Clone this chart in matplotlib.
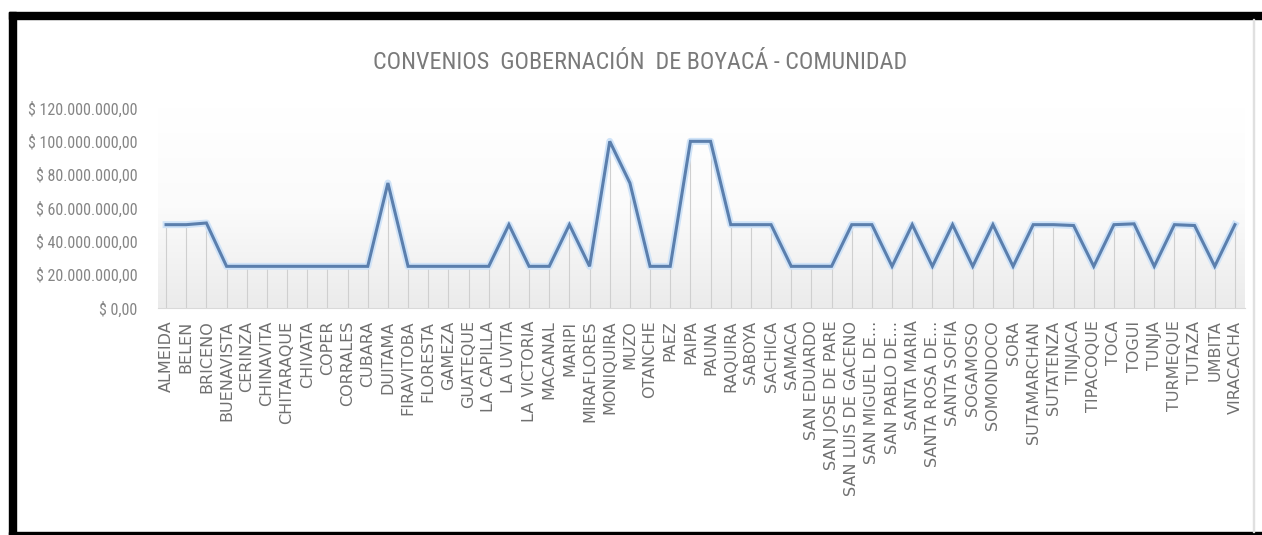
import numpy as np
import matplotlib.pyplot as plt
from matplotlib.patches import Rectangle
from matplotlib.ticker import FuncFormatter
from matplotlib.colors import LinearSegmentedColormap

municipios = [
    "ALMEIDA", "BELEN", "BRICENO", "BUENAVISTA", "CERINZA", "CHINAVITA", "CHITARAQUE",
    "CHIVATA", "COPER", "CORRALES", "CUBARA", "DUITAMA", "FIRAVITOBA", "FLORESTA",
    "GAMEZA", "GUATEQUE", "LA CAPILLA", "LA UVITA", "LA VICTORIA", "MACANAL", "MARIPI",
    "MIRAFLORES", "MONIQUIRA", "MUZO", "OTANCHE", "PAEZ", "PAIPA", "PAUNA", "RAQUIRA",
    "SABOYA", "SACHICA", "SAMACA", "SAN EDUARDO", "SAN JOSE DE PARE",
    "SAN LUIS DE GACENO", "SAN MIGUEL DE...", "SAN PABLO DE...", "SANTA MARIA",
    "SANTA ROSA DE...", "SANTA SOFIA", "SOGAMOSO", "SOMONDOCO", "SORA", "SUTAMARCHAN",
    "SUTATENZA", "TINJACA", "TIPACOQUE", "TOCA", "TOGUI", "TUNJA", "TURMEQUE", "TUTAZA",
    "UMBITA", "VIRACACHA",
]
# valores en millones de pesos
valores = [
    50, 50, 51, 25, 25, 25, 25,
    25, 25, 25, 25, 75, 25, 25,
    25, 25, 25, 50, 25, 25, 50,
    25, 100, 75, 25, 25, 100, 100, 50,
    50, 50, 25, 25, 25,
    50, 50, 25, 50,
    25, 50, 25, 50, 25, 50,
    50, 49.5, 25, 50, 50.5, 25, 50, 49.5,
    25, 50,
]
y_ticks = [0, 20, 40, 60, 80, 100, 120]

valores = np.array(valores) * 1e6
x = np.arange(len(municipios))

fuente_estrecha = ['Liberation Sans Narrow', 'DejaVu Sans Condensed', 'Roboto Condensed',
                   'DejaVu Sans']

fig = plt.figure(figsize=(12.62, 5.35), dpi=100)
ax = fig.add_axes([158 / 1262, 1 - 308 / 535, (1245 - 158) / 1262, 200 / 535])

# fondo degradado del area de trazado
cmap = LinearSegmentedColormap.from_list('fondo', ['#ffffff', '#fbfbfb', '#ebebeb'])
grad = np.linspace(0, 1, 256).reshape(-1, 1)
ax.imshow(grad, extent=[-0.4, 53.5, 0, 120e6], aspect='auto', cmap=cmap,
          zorder=0, origin='upper')

# lineas de proyeccion
ax.vlines(x, 0, valores, color='#cfcfcf', lw=0.8, zorder=1)

# linea con brillo
ax.plot(x, valores, color='#cfe3f8', lw=5, solid_joinstyle='round', zorder=2)
ax.plot(x, valores, color='#5b7fad', lw=2.2, solid_joinstyle='miter', zorder=3)

ax.set_xlim(-0.4, 53.5)
ax.set_ylim(0, 120e6)
ax.set_yticks([v * 1e6 for v in y_ticks])


def pesos(v, pos):
    s = '{:,.2f}'.format(v).replace(',', 'X').replace('.', ',').replace('X', '.')
    return '$ ' + s


ax.yaxis.set_major_formatter(FuncFormatter(pesos))
ax.set_xticks(x)
ax.set_xticklabels(municipios, rotation=90, fontsize=11.5, color='#707070')
for lbl in ax.get_yticklabels():
    lbl.set_family(fuente_estrecha)
    lbl.set_fontsize(11.5)
    lbl.set_color('#858585')
ax.tick_params(axis='x', length=0, pad=9)
ax.tick_params(axis='y', length=0, pad=15)
for s in ['top', 'right', 'left']:
    ax.spines[s].set_visible(False)
ax.spines['bottom'].set_color('#d9d9d9')

fig.text(640 / 1262, 1 - 62 / 535, 'CONVENIOS  GOBERNACIÓN  DE BOYACÁ - COMUNIDAD',
         ha='center', va='center', fontsize=17.3, color='#7a7a7a',
         family=fuente_estrecha)

# marco negro de la captura
fig.patches.append(Rectangle((9 / 1262, 1 - 19 / 535), 1 - 9 / 1262, 7 / 535,
                             transform=fig.transFigure, color='black'))
fig.patches.append(Rectangle((9 / 1262, 0), 7 / 1262, 1 - 12 / 535,
                             transform=fig.transFigure, color='black'))
fig.patches.append(Rectangle((9 / 1262, 0), 1 - 9 / 1262, 3 / 535,
                             transform=fig.transFigure, color='black'))
fig.patches.append(Rectangle((1253 / 1262, 3 / 535), 1 / 1262, 1 - 22 / 535,
                             transform=fig.transFigure, color='#e0e0e0'))

fig.savefig('out.png', dpi=100)
